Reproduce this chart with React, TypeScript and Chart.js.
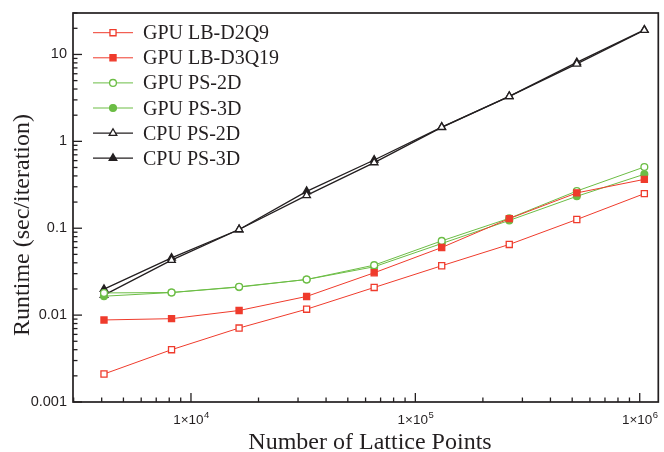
import { useEffect, useRef } from 'react';
import { Chart, registerables } from 'chart.js';

Chart.register(...registerables);

// ---- data ----
const latticePoints = [4096, 8192, 16384, 32768, 65536, 131072, 262144, 524288, 1048576];
const gpuLbD2Q9 = [0.0021, 0.0040, 0.0071, 0.0117, 0.0208, 0.037, 0.065, 0.126, 0.25];
const gpuLbD3Q19 = [0.0088, 0.0091, 0.0113, 0.0164, 0.0307, 0.060, 0.129, 0.255, 0.365];
const gpuPs2D = [0.018, 0.0182, 0.0212, 0.0257, 0.0376, 0.0715, 0.13, 0.268, 0.507];
const gpuPs3D = [0.0165, 0.0182, 0.021, 0.0257, 0.036, 0.0667, 0.123, 0.233, 0.418];
const cpuPs2D = [0.017, 0.0429, 0.0966, 0.239, 0.57, 1.45, 3.29, 7.8, 19.0];
const cpuPs3D = [0.0199, 0.0456, 0.0966, 0.266, 0.61, 1.46, 3.3, 8.1, 19.2];

const seriesLabels = ['GPU LB-D2Q9', 'GPU LB-D3Q19', 'GPU PS-2D', 'GPU PS-3D', 'CPU PS-2D', 'CPU PS-3D'];
const yMajorTicks = [0.001, 0.01, 0.1, 1, 10];
const yTickLabels = ['0.001', '0.01', '0.1', '1', '10'];
const xMajorTicks = [1e4, 1e5, 1e6];
const xTickExponents = ['4', '5', '6'];
const xTitle = 'Number of Lattice Points';
const yTitle = 'Runtime (sec/iteration)';

const RED = '#ef3b2c';
const GREEN = '#6cbd45';
const BLACK = '#231f20';
const SERIF = '"Liberation Serif", "Times New Roman", serif';
const SANS = '"Liberation Sans", Arial, sans-serif';

type Style = { color: string; shape: 'rect' | 'circle' | 'triangle'; filled: boolean; radius: number; width: number };
const styles: Style[] = [
  { color: RED, shape: 'rect', filled: false, radius: 4.3, width: 1 },
  { color: RED, shape: 'rect', filled: true, radius: 4.3, width: 1 },
  { color: GREEN, shape: 'circle', filled: false, radius: 3.4, width: 1 },
  { color: GREEN, shape: 'circle', filled: true, radius: 3.4, width: 1 },
  { color: BLACK, shape: 'triangle', filled: false, radius: 4.4, width: 1.3 },
  { color: BLACK, shape: 'triangle', filled: true, radius: 4.4, width: 1.3 },
];
const seriesValues = [gpuLbD2Q9, gpuLbD3Q19, gpuPs2D, gpuPs3D, cpuPs2D, cpuPs3D];

function drawMarker(ctx: CanvasRenderingContext2D, s: Style, x: number, y: number) {
  ctx.save();
  ctx.beginPath();
  const r = s.radius;
  if (s.shape === 'rect') {
    const h = r * Math.SQRT1_2;
    ctx.rect(x - h, y - h, 2 * h, 2 * h);
  } else if (s.shape === 'circle') {
    ctx.arc(x, y, r, 0, Math.PI * 2);
  } else {
    let rad = 0;
    ctx.moveTo(x + Math.sin(rad) * r, y - Math.cos(rad) * r);
    rad += (2 * Math.PI) / 3;
    ctx.lineTo(x + Math.sin(rad) * r, y - Math.cos(rad) * r);
    rad += (2 * Math.PI) / 3;
    ctx.lineTo(x + Math.sin(rad) * r, y - Math.cos(rad) * r);
    ctx.closePath();
  }
  ctx.fillStyle = s.filled ? s.color : '#ffffff';
  ctx.fill();
  ctx.lineWidth = 1.3;
  ctx.strokeStyle = s.color;
  ctx.stroke();
  ctx.restore();
}

function text(
  ctx: CanvasRenderingContext2D,
  s: string,
  x: number,
  y: number,
  font: string,
  align: CanvasTextAlign,
  baseline: CanvasTextBaseline,
  sx = 1,
  rot = 0
) {
  ctx.save();
  ctx.font = font;
  ctx.fillStyle = BLACK;
  ctx.textAlign = align;
  ctx.textBaseline = baseline;
  ctx.translate(x, y);
  if (rot) ctx.rotate(rot);
  ctx.scale(sx, 1);
  ctx.fillText(s, 0, 0);
  ctx.restore();
}

const decorPlugin = {
  id: 'decor',
  beforeDatasetsDraw(chart: any) {
    const ctx: CanvasRenderingContext2D = chart.ctx;
    const a = chart.chartArea;
    const xs = chart.scales.x;
    const ys = chart.scales.y;
    ctx.save();
    ctx.strokeStyle = BLACK;
    ctx.lineWidth = 1.7;
    ctx.strokeRect(a.left, a.top, a.right - a.left, a.bottom - a.top);
    ctx.lineWidth = 1.3;
    // x ticks
    for (let e = 3; e <= 6; e++) {
      for (let m = 1; m <= 9; m++) {
        const v = m * Math.pow(10, e);
        if (v < xs.min || v > xs.max) continue;
        const px = xs.getPixelForValue(v);
        const len = m === 1 ? 9 : 4.5;
        ctx.beginPath();
        ctx.moveTo(px, a.bottom);
        ctx.lineTo(px, a.bottom - len);
        ctx.stroke();
      }
    }
    // y ticks
    for (let e = -3; e <= 1; e++) {
      for (let m = 1; m <= 9; m++) {
        const v = m * Math.pow(10, e);
        if (v < ys.min || v > ys.max * 1.0001) continue;
        const py = ys.getPixelForValue(v);
        const len = m === 1 ? 9 : 4.5;
        ctx.beginPath();
        ctx.moveTo(a.left, py);
        ctx.lineTo(a.left + len, py);
        ctx.stroke();
      }
    }
    ctx.restore();
  },
  afterDraw(chart: any) {
    const ctx: CanvasRenderingContext2D = chart.ctx;
    const a = chart.chartArea;
    const xs = chart.scales.x;
    const ys = chart.scales.y;
    // y tick labels
    yMajorTicks.forEach((v, i) => {
      text(ctx, yTickLabels[i], a.left - 6, ys.getPixelForValue(v), `14.5px ${SANS}`, 'right', 'middle');
    });
    // x tick labels
    xMajorTicks.forEach((v, i) => {
      const px = xs.getPixelForValue(v);
      ctx.save();
      ctx.font = `13.5px ${SANS}`;
      const w1 = ctx.measureText('1×10').width;
      ctx.font = `9.5px ${SANS}`;
      const w2 = ctx.measureText(xTickExponents[i]).width;
      ctx.restore();
      const start = px - (w1 + w2) / 2;
      text(ctx, '1×10', start, 424, `13.5px ${SANS}`, 'left', 'alphabetic');
      text(ctx, xTickExponents[i], start + w1 + 0.5, 418, `9.5px ${SANS}`, 'left', 'alphabetic');
    });
    // axis titles
    text(ctx, xTitle, 370, 449, `24px ${SERIF}`, 'center', 'alphabetic');
    text(ctx, yTitle, 23, 225, `24px ${SERIF}`, 'center', 'middle', 1, -Math.PI / 2);
    // legend
    seriesLabels.forEach((lab, i) => {
      const y = 32.7 + i * 25.1;
      const s = styles[i];
      ctx.save();
      ctx.strokeStyle = s.color;
      ctx.lineWidth = s.width;
      ctx.beginPath();
      ctx.moveTo(93, y);
      ctx.lineTo(133, y);
      ctx.stroke();
      ctx.restore();
      drawMarker(ctx, s, 113, y);
      text(ctx, lab, 143, y + 6.5, `20px ${SERIF}`, 'left', 'alphabetic');
    });
  },
};

export default function App() {
  const ref = useRef<HTMLCanvasElement>(null);
  useEffect(() => {
    document.body.style.margin = '0';
    const canvas = ref.current!;
    const datasets = seriesLabels.map((label, i) => {
      const s = styles[i];
      return {
        label,
        data: latticePoints.map((x, j) => ({ x, y: seriesValues[i][j] })),
        borderColor: s.color,
        backgroundColor: s.filled ? s.color : '#ffffff',
        borderWidth: s.width,
        pointStyle: s.shape,
        pointRadius: s.radius,
        pointBorderWidth: 1.3,
        pointBorderColor: s.color,
        pointBackgroundColor: s.filled ? s.color : '#ffffff',
        tension: 0,
        fill: false,
      };
    });
    const chart = new Chart(canvas, {
      type: 'line',
      data: { datasets },
      options: {
        responsive: false,
        animation: false,
        devicePixelRatio: 1,
        layout: { padding: { top: 13, right: 2, left: 0, bottom: 0 } },
        plugins: { legend: { display: false }, tooltip: { enabled: false } },
        scales: {
          x: {
            type: 'logarithmic',
            min: 2980,
            max: 1.21e6,
            ticks: { display: false },
            grid: { display: false },
            border: { display: false },
            afterFit: (s: any) => {
              s.height = 50;
            },
          },
          y: {
            type: 'logarithmic',
            min: 0.001,
            max: 30,
            ticks: { display: false },
            grid: { display: false },
            border: { display: false },
            afterFit: (s: any) => {
              s.width = 73;
            },
          },
        },
      } as any,
      plugins: [decorPlugin],
    });
    return () => chart.destroy();
  }, []);
  return (
    <div style={{ position: 'fixed', left: 0, top: 0, width: 664, height: 452 }}>
      <canvas ref={ref} width={664} height={452} style={{ width: 664, height: 452, display: 'block' }} />
    </div>
  );
}
